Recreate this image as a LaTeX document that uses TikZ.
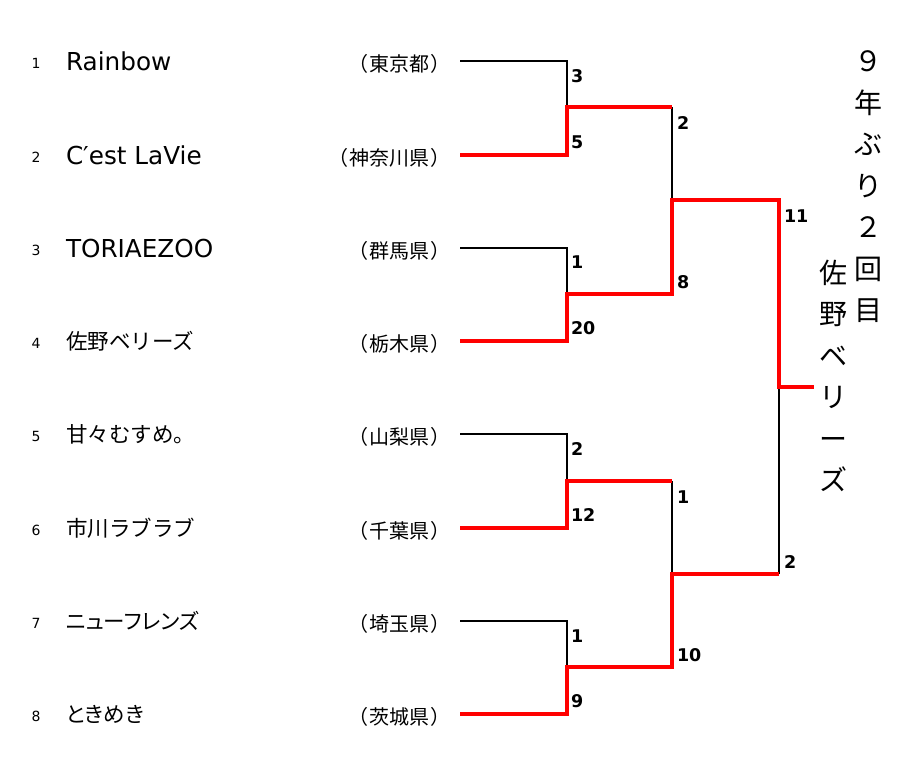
\documentclass[tikz,border=0pt]{standalone}
\usepackage{fontspec}
\setmainfont{DejaVu Sans}
\newfontfamily\jp{Noto Sans CJK JP}
\newfontfamily\jpp{Noto Sans CJK JP}[RawFeature=+palt]
\begin{document}
\begin{tikzpicture}[x=1pt,y=-1pt,
  every node/.style={inner sep=0pt,outer sep=0pt},
  seed/.style={font=\fontsize{14}{14}\selectfont, anchor=base},
  latin/.style={font=\fontsize{24.7}{25}\selectfont, anchor=base west},
  jname/.style={font=\jp\fontsize{21.5}{22}\selectfont, anchor=base west},
  pref/.style={font=\jp\fontsize{20}{20}\selectfont, anchor=base east},
  score/.style={font=\bfseries\fontsize{17.5}{17.5}\selectfont, anchor=base west},
  loser/.style={draw=black, line width=1.8pt},
  winner/.style={draw=red, line width=4.5pt, line join=miter},
  vtext/.style={font=\jp\fontsize{28}{41.5}\selectfont, align=center}]
\useasboundingbox (0,0) rectangle (901,771);
\fill[white] (0,0) rectangle (901,771);

% seeds
\foreach \i/\y in {1/61,2/155,3/248,4/341,5/434,6/528,7/621,8/714}
  \node[seed] (s\i) at (36,\y+7) {\i};

% team names
\node[latin] (n1) at (66,70) {Rainbow};
\node[latin] (n2) at (66,164) {C′est LaVie};
\node[latin] (n3) at (66,257) {TORIAEZOO};
\node[jname] (n4) at (66,349) {佐野ベリーズ};
\node[jname] (n5) at (66,442) {甘々むすめ。};
\node[jname] (n6) at (66,536) {市川ラブラブ};
\node[jname, font=\jpp\fontsize{21.5}{22}\selectfont] (n7) at (66,629) {ニューフレンズ};
\node[jname, font=\jpp\fontsize{21.5}{22}\selectfont] (n8) at (66,722) {ときめき};

% prefectures
\newcommand{\pr}[1]{（\hspace{1pt}#1\hspace{1pt}）}
\node[pref] (p1) at (450,71) {\pr{東京都}};
\node[pref] (p2) at (450,165) {\pr{神奈川県}};
\node[pref] (p3) at (450,258) {\pr{群馬県}};
\node[pref] (p4) at (450,351) {\pr{栃木県}};
\node[pref] (p5) at (450,444) {\pr{山梨県}};
\node[pref] (p6) at (450,538) {\pr{千葉県}};
\node[pref] (p7) at (450,631) {\pr{埼玉県}};
\node[pref] (p8) at (450,724) {\pr{茨城県}};

% line start points
\foreach \i/\y in {1/61,2/155,3/248,4/341,5/434,6/528,7/621,8/714}
  \coordinate (e\i) at (460,\y);

% round 1 joints
\coordinate (a1) at (567,61);  \coordinate (a2) at (567,155);
\coordinate (a3) at (567,248); \coordinate (a4) at (567,341);
\coordinate (a5) at (567,434); \coordinate (a6) at (567,528);
\coordinate (a7) at (567,621); \coordinate (a8) at (567,714);
\coordinate (m1) at (567,107); \coordinate (m2) at (567,294);
\coordinate (m3) at (567,481); \coordinate (m4) at (567,667);
% round 2
\coordinate (b1) at (672,107); \coordinate (b2) at (672,294);
\coordinate (b3) at (672,481); \coordinate (b4) at (672,667);
\coordinate (q1) at (672,200); \coordinate (q2) at (672,574);
% final
\coordinate (c1) at (779,200); \coordinate (c2) at (779,574);
\coordinate (f) at (779,387);  \coordinate (champ) at (814,387);

% losers (black)
\draw[loser] (e1) -- (a1) -- (m1);
\draw[loser] (e3) -- (a3) -- (m2);
\draw[loser] (e5) -- (a5) -- (m3);
\draw[loser] (e7) -- (a7) -- (m4);
\draw[loser] (b1) -- (q1);
\draw[loser] (b3) -- (q2);
\draw[loser] (c2) -- (f);

% winners (red)
\draw[winner] (e2) -- (a2) -- (m1) -- (b1);
\draw[winner] (e4) -- (a4) -- (m2) -- (b2) -- (q1) -- (c1) -- (f) -- (champ);
\draw[winner] (e6) -- (a6) -- (m3) -- (b3);
\draw[winner] (e8) -- (a8) -- (m4) -- (b4) -- (q2) -- (c2);

% scores
\node[score] (r1a) at (571,82) {3};
\node[score] (r1b) at (571,148) {5};
\node[score] (r2a) at (571,268) {1};
\node[score] (r2b) at (571,334) {20};
\node[score] (r3a) at (571,455) {2};
\node[score] (r3b) at (571,521) {12};
\node[score] (r4a) at (571,642) {1};
\node[score] (r4b) at (571,707) {9};
\node[score] (k1a) at (677,129) {2};
\node[score] (k1b) at (677,288) {8};
\node[score] (k2a) at (677,503) {1};
\node[score] (k2b) at (677,661) {10};
\node[score] (fa) at (784,222) {11};
\node[score] (fb) at (784,568) {2};

% vertical texts
\node[vtext] (v1) at (868,187) {９\\年\\ぶ\\り\\２\\回\\目};
\node[vtext] (v2) at (833,376) {佐\\野\\ベ\\リ\\ー\\ズ};
\end{tikzpicture}
\end{document}
